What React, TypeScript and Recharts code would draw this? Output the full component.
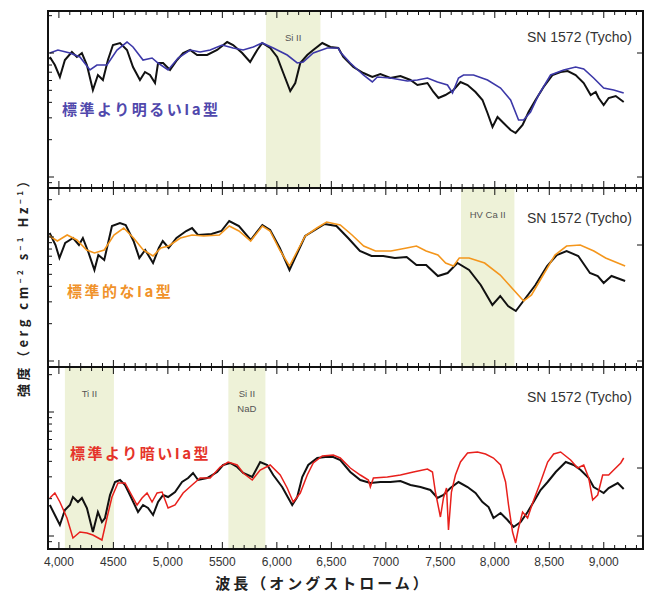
import React from 'react';
import { ComposedChart, Line, Scatter, XAxis, YAxis, ReferenceArea } from 'recharts';

// wavelength (Å) / relative log-intensity (arbitrary units)
const tychoBright: [number, number][] = [
  [3917, 131], [3963, 123], [4009, 111], [4055, 128], [4119, 136], [4165, 131], [4211, 135], [4257, 123],
  [4312, 98], [4358, 113], [4404, 108], [4450, 128], [4496, 143], [4561, 145], [4625, 138], [4680, 121],
  [4744, 108], [4790, 116], [4836, 113], [4882, 105], [4910, 125], [4956, 125], [5020, 118], [5084, 128],
  [5140, 135], [5204, 138], [5268, 133], [5360, 133], [5452, 138], [5544, 146], [5599, 143], [5682, 135],
  [5755, 126], [5820, 138], [5866, 145], [5939, 140], [6003, 131], [6059, 115], [6123, 97], [6169, 105],
  [6215, 125], [6279, 133], [6334, 138], [6417, 145], [6491, 141], [6564, 140], [6610, 131], [6702, 121],
  [6794, 115], [6876, 111], [6950, 114], [7042, 110], [7134, 112], [7226, 108], [7290, 103], [7382, 105],
  [7437, 96], [7483, 90], [7547, 93], [7621, 98], [7685, 106], [7750, 103], [7823, 96], [7887, 88],
  [7933, 75], [7979, 61], [8025, 71], [8080, 65], [8145, 58], [8191, 55], [8255, 63], [8310, 76],
  [8374, 88], [8448, 101], [8530, 113], [8604, 116], [8669, 117], [8742, 113], [8816, 105], [8880, 93],
  [8926, 96], [8953, 90], [8999, 83], [9045, 90], [9110, 92], [9183, 86],
];

const brighterIa: [number, number][] = [
  [3917, 135], [3991, 138], [4101, 135], [4193, 131], [4285, 118], [4349, 123], [4441, 123], [4533, 138],
  [4625, 146], [4680, 141], [4772, 128], [4855, 130], [4910, 125], [5002, 118], [5094, 130], [5204, 138],
  [5296, 136], [5388, 138], [5498, 143], [5599, 140], [5691, 138], [5783, 141], [5866, 145], [5967, 140],
  [6095, 133], [6187, 125], [6242, 126], [6334, 135], [6463, 140], [6564, 140], [6582, 136], [6674, 125],
  [6794, 113], [6876, 106], [6922, 111], [7042, 110], [7198, 107], [7290, 108], [7382, 110], [7474, 106],
  [7566, 103], [7612, 95], [7667, 110], [7713, 113], [7805, 113], [7933, 108], [8053, 100], [8145, 88],
  [8218, 68], [8264, 68], [8328, 76], [8402, 93], [8512, 113], [8632, 118], [8742, 121], [8816, 119],
  [8907, 110], [8999, 100], [9091, 98], [9183, 95],
];

const tychoNormal: [number, number][] = [
  [3915, 134], [3969, 122], [4005, 109], [4058, 124], [4130, 129], [4184, 122], [4220, 129], [4273, 114],
  [4326, 97], [4362, 112], [4416, 107], [4487, 141], [4560, 144], [4613, 142], [4685, 126], [4738, 109],
  [4792, 117], [4864, 104], [4917, 119], [4953, 126], [5007, 119], [5079, 129], [5168, 136], [5222, 139],
  [5276, 132], [5401, 133], [5491, 136], [5563, 146], [5652, 141], [5760, 127], [5867, 142], [5938, 137],
  [6027, 119], [6116, 97], [6188, 114], [6260, 131], [6350, 137], [6439, 143], [6547, 141], [6654, 129],
  [6762, 116], [6869, 111], [6976, 111], [7083, 109], [7191, 110], [7281, 102], [7370, 102], [7478, 91],
  [7567, 94], [7657, 104], [7764, 97], [7871, 82], [7978, 62], [8050, 71], [8122, 61], [8193, 56],
  [8283, 69], [8373, 82], [8480, 101], [8569, 112], [8659, 116], [8766, 111], [8873, 94], [8945, 91],
  [8999, 84], [9071, 91], [9196, 86],
];

const normalIa: [number, number][] = [
  [3915, 131], [3986, 126], [4076, 132], [4165, 127], [4255, 117], [4326, 114], [4416, 117], [4505, 132],
  [4595, 139], [4685, 129], [4774, 117], [4864, 111], [4935, 119], [5007, 121], [5115, 129], [5222, 132],
  [5329, 131], [5472, 132], [5563, 141], [5652, 136], [5760, 126], [5867, 141], [5938, 136], [6027, 117],
  [6116, 101], [6188, 116], [6260, 131], [6367, 139], [6457, 145], [6582, 142], [6690, 132], [6797, 121],
  [6905, 116], [7047, 116], [7191, 119], [7281, 121], [7370, 116], [7478, 112], [7549, 104], [7621, 101],
  [7674, 109], [7764, 109], [7907, 104], [8050, 92], [8157, 79], [8265, 66], [8337, 72], [8444, 92],
  [8552, 112], [8659, 121], [8784, 122], [8909, 116], [9017, 109], [9196, 101],
];

const tychoFaint: [number, number][] = [
  [3917, 44], [3963, 34], [4009, 24], [4055, 39], [4101, 44], [4129, 52], [4175, 47], [4211, 51],
  [4257, 41], [4312, 17], [4358, 37], [4395, 27], [4423, 31], [4469, 54], [4515, 67], [4561, 69],
  [4607, 64], [4652, 54], [4726, 37], [4772, 44], [4818, 41], [4864, 34], [4910, 47], [4956, 54],
  [5002, 52], [5066, 57], [5130, 67], [5186, 71], [5231, 76], [5277, 69], [5360, 71], [5452, 77],
  [5507, 84], [5571, 86], [5636, 82], [5691, 76], [5774, 72], [5847, 87], [5912, 84], [5967, 74],
  [6049, 62], [6105, 51], [6141, 44], [6187, 52], [6233, 72], [6288, 84], [6371, 91], [6445, 92],
  [6518, 92], [6582, 89], [6674, 77], [6766, 69], [6858, 66], [6950, 67], [7042, 67], [7134, 68],
  [7226, 64], [7318, 62], [7409, 59], [7474, 51], [7529, 54], [7593, 61], [7667, 67], [7750, 62],
  [7823, 56], [7887, 47], [7943, 42], [7988, 31], [8053, 36], [8117, 29], [8172, 22], [8237, 27],
  [8301, 37], [8356, 47], [8420, 59], [8485, 67], [8559, 77], [8651, 87], [8724, 84], [8788, 79],
  [8862, 71], [8907, 62], [8953, 59], [8999, 56], [9045, 61], [9128, 66], [9183, 60],
];

const fainterIa: [number, number][] = [
  [3917, 51], [3963, 56], [4009, 47], [4074, 31], [4129, 11], [4193, 17], [4257, 16], [4312, 14],
  [4395, 9], [4441, 31], [4487, 52], [4542, 66], [4607, 66], [4652, 57], [4717, 44], [4763, 51],
  [4809, 56], [4855, 47], [4901, 56], [4947, 57], [5002, 41], [5066, 44], [5140, 56], [5222, 64],
  [5296, 71], [5388, 71], [5480, 82], [5553, 87], [5636, 84], [5691, 76], [5774, 69], [5847, 79],
  [5939, 84], [6031, 74], [6095, 61], [6150, 47], [6215, 56], [6279, 74], [6334, 86], [6417, 93],
  [6518, 94], [6582, 91], [6674, 81], [6766, 74], [6840, 69], [6858, 62], [6886, 71], [7014, 72],
  [7134, 74], [7253, 77], [7382, 80], [7428, 77], [7455, 57], [7501, 32], [7529, 51], [7557, 61],
  [7575, 19], [7602, 57], [7639, 74], [7685, 87], [7750, 96], [7841, 97], [7915, 95], [7988, 91],
  [8053, 84], [8099, 67], [8126, 44], [8163, 17], [8191, 6], [8218, 21], [8255, 37], [8301, 31],
  [8347, 46], [8420, 67], [8485, 87], [8540, 95], [8604, 97], [8696, 89], [8760, 81], [8816, 84],
  [8862, 71], [8898, 49], [8944, 54], [8990, 74], [9045, 74], [9091, 79], [9156, 86], [9183, 91],
];

const xTicks = [4000, 4500, 5000, 5500, 6000, 6500, 7000, 7500, 8000, 8500, 9000];
const xTickLabels = ['4,000', '4500', '5,000', '5500', '6,000', '6,500', '7000', '7,500', '8,000', '8,500', '9,000'];

const X_DOMAIN: [number, number] = [3900, 9360];
const allX: number[] = [];
for (let w = 3900; w <= 9300; w += 100) allX.push(w);

const W = 653;
const PAD = 6;
const FRAME = { stroke: '#111', strokeWidth: 2 };
const TICK = { stroke: '#111', strokeWidth: 1 };
const SANS = "'Liberation Sans', Arial, sans-serif";
const JP = "'Noto Sans CJK JP', 'Noto Sans', sans-serif";

const toPts = (arr: [number, number][]) => arr.map(([w, f]) => ({ w, f }));
const noLabel = () => <g />;

function logTicks(base: number, max: number) {
  const major = [base, base + 124];
  const minor: number[] = [];
  for (let d = -1; d <= 1; d++) {
    for (let k = 2; k <= 9; k++) {
      const v = base + 124 * (d + Math.log10(k));
      if (v > 1 && v < max - 1) minor.push(v);
    }
  }
  return { major, minor };
}

// a short inward tick mark drawn at each scatter point sitting on the top / bottom edge
function EdgeTick(props: any) {
  const { cx, cy, payload } = props;
  if (cx == null || cy == null) return <g />;
  const len = xTicks.includes(payload.w) ? 7 : 4;
  const dir = payload.edge === 'bottom' ? -1 : 1;
  return <line x1={cx} y1={cy} x2={cx} y2={cy + dir * len} stroke="#111" strokeWidth={1} />;
}

function BandLabel({ viewBox, lines }: any) {
  const cx = viewBox.x + viewBox.width / 2;
  return (
    <text x={cx} y={viewBox.y + 30} textAnchor="middle" fontSize={9.5} fill="#555" fontFamily={SANS}>
      {lines.map((l: string, i: number) => (
        <tspan key={i} x={cx} dy={i === 0 ? 0 : 15}>{l}</tspan>
      ))}
    </text>
  );
}

type Band = { from: number; to: number; lines: string[] };
type Series = { data: [number, number][]; color: string; width: number };

function Panel({ top, height, base, rightTicks, series, bands, showLabels }: {
  top: number; height: number; base: number; rightTicks: number[];
  series: Series[]; bands: Band[]; showLabels?: boolean;
}) {
  const extra = showLabels ? 26 : 0;
  const { major, minor } = logTicks(base, height);
  const yDom: [number, number] = [0, height];
  const yCommon = { type: 'number' as const, domain: yDom, allowDataOverflow: true, interval: 0 as const, width: 1, mirror: true, tick: noLabel, tickLine: TICK };
  const edgePts = [
    ...allX.map((w) => ({ w, f: 0, edge: 'bottom' })),
    ...allX.map((w) => ({ w, f: height, edge: 'top' })),
  ];
  return (
    <div style={{ position: 'absolute', left: 0, top: top - PAD }}>
      <ComposedChart width={W} height={height + PAD * 2 + extra} margin={{ top: PAD, right: 10, bottom: PAD, left: 48 }}>
        {bands.map((b, i) => (
          <ReferenceArea key={i} xAxisId="x" yAxisId="y" x1={b.from} x2={b.to} y1={0} y2={height}
            fill="#eef2d8" fillOpacity={1} stroke="none" ifOverflow="hidden"
            label={<BandLabel lines={b.lines} />} />
        ))}
        <XAxis xAxisId="x" type="number" dataKey="w" domain={X_DOMAIN} allowDataOverflow ticks={xTicks} interval={0}
          hide={!showLabels} height={extra} tickSize={0} tickMargin={8} axisLine={false} tickLine={false}
          tickFormatter={(v: number) => xTickLabels[xTicks.indexOf(v)]}
          tick={{ fontSize: 12, fill: '#333', fontFamily: SANS }} />
        <YAxis yAxisId="y" {...yCommon} ticks={major} tickSize={6} axisLine={FRAME} />
        <YAxis yAxisId="ym" {...yCommon} ticks={minor} tickSize={3} axisLine={false} />
        <YAxis yAxisId="yr" orientation="right" {...yCommon} ticks={rightTicks} tickSize={6} axisLine={FRAME} />
        <Scatter xAxisId="x" yAxisId="y" data={edgePts} dataKey="f" shape={<EdgeTick />} isAnimationActive={false} />
        {series.map((s, i) => (
          <Line key={i} xAxisId="x" yAxisId="y" data={toPts(s.data)} dataKey="f" type="linear"
            stroke={s.color} strokeWidth={s.width} dot={false} activeDot={false} isAnimationActive={false} />
        ))}
        <ReferenceArea xAxisId="x" yAxisId="y" x1={X_DOMAIN[0]} x2={X_DOMAIN[1]} y1={0} y2={height}
          fill="none" stroke="#111" strokeWidth={2} ifOverflow="visible" />
      </ComposedChart>
    </div>
  );
}

const tag: React.CSSProperties = { position: 'absolute', fontFamily: SANS, fontSize: 14, color: '#333', lineHeight: '16px', whiteSpace: 'nowrap' };
const typeTag: React.CSSProperties = { position: 'absolute', fontFamily: JP, fontWeight: 700, fontSize: 15, letterSpacing: 2.5, lineHeight: '16px', whiteSpace: 'nowrap' };
const sup: React.CSSProperties = { fontSize: 8 };

export default function App() {
  return (
    <div style={{ position: 'absolute', left: 0, top: 0, width: W, height: 599, background: '#fff', overflow: 'hidden' }}>
      <Panel top={11} height={177} base={11} rightTicks={[11, 135]}
        bands={[{ from: 5900, to: 6400, lines: ['Si II'] }]}
        series={[{ data: tychoBright, color: '#111', width: 2 }, { data: brighterIa, color: '#3c38a8', width: 1.6 }]} />
      <Panel top={188} height={179} base={6} rightTicks={[6, 122]}
        bands={[{ from: 7690, to: 8180, lines: ['HV Ca II'] }]}
        series={[{ data: tychoNormal, color: '#111', width: 2 }, { data: normalIa, color: '#f4961c', width: 1.6 }]} />
      <Panel top={367} height={182} base={13} rightTicks={[13, 81]} showLabels
        bands={[{ from: 4055, to: 4505, lines: ['Ti II'] }, { from: 5555, to: 5895, lines: ['Si II', 'NaD'] }]}
        series={[{ data: tychoFaint, color: '#111', width: 2 }, { data: fainterIa, color: '#e8201c', width: 1.5 }]} />

      <div style={{ ...tag, right: W - 632, top: 29 }}>SN 1572 (Tycho)</div>
      <div style={{ ...tag, right: W - 632, top: 210 }}>SN 1572 (Tycho)</div>
      <div style={{ ...tag, right: W - 632, top: 389 }}>SN 1572 (Tycho)</div>

      <div style={{ ...typeTag, left: 62, top: 101, color: '#5048ac' }}>標準より明るいIa型</div>
      <div style={{ ...typeTag, left: 67, top: 283, color: '#f0922a' }}>標準的なIa型</div>
      <div style={{ ...typeTag, left: 70, top: 445, color: '#e5332a' }}>標準より暗いIa型</div>

      <div style={{ position: 'absolute', left: 323 - 150, width: 300, top: 573, textAlign: 'center', fontFamily: JP, fontWeight: 700, fontSize: 15, letterSpacing: 3, color: '#222', lineHeight: '20px' }}>
        波長（オングストローム）
      </div>
      <div style={{ position: 'absolute', left: 20 - 120, top: 284 - 10, width: 240, height: 20, transform: 'rotate(-90deg)', textAlign: 'center', fontFamily: JP, fontSize: 13, fontWeight: 700, letterSpacing: 3.5, color: '#222', lineHeight: '20px', whiteSpace: 'nowrap' }}>
        強度（erg cm<sup style={sup}>−2</sup> s<sup style={sup}>−1</sup> Hz<sup style={sup}>−1</sup>）
      </div>
    </div>
  );
}
